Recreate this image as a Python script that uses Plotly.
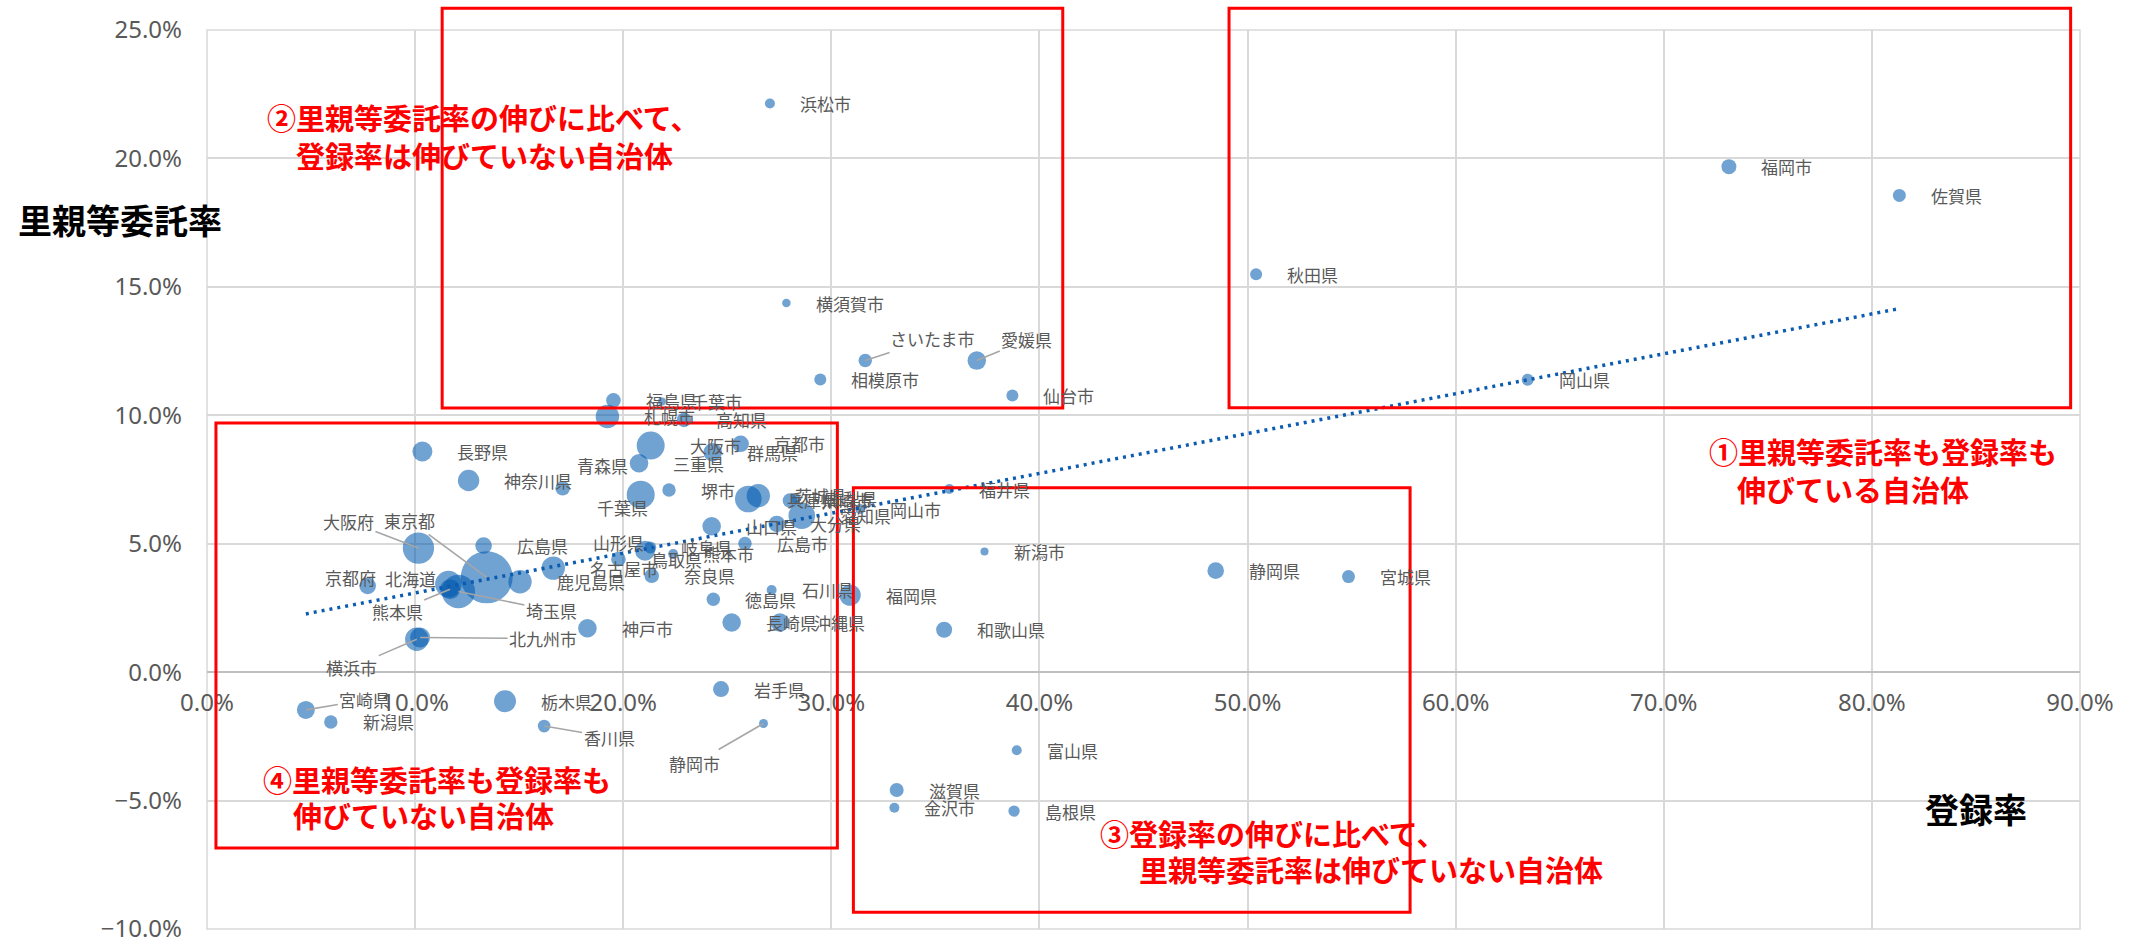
import math
import plotly.graph_objects as go

# ---------------- data ----------------
names = [
    "浜松市", "横須賀市", "さいたま市", "愛媛県", "相模原市", "仙台市", "福岡市", "佐賀県",
    "秋田県", "岡山県", "福島県", "札幌市", "千葉市", "高知県", "大阪市", "群馬県",
    "京都市", "三重県", "青森県", "長野県", "神奈川県", "千葉県", "堺市", "兵庫県",
    "茨城県", "川崎市", "山梨県", "愛知県", "岡山市", "福井県", "大分県", "山口県",
    "広島市", "新潟市", "大阪府", "東京都", "広島県", "京都府", "北海道", "熊本県",
    "埼玉県", "鹿児島県", "名古屋市", "鳥取県", "山形県", "岐阜県", "奈良県", "熊本市",
    "徳島県", "石川県", "長崎県", "沖縄県", "神戸市", "北九州市", "横浜市", "福岡県",
    "和歌山県", "静岡県", "宮城県", "富山県", "滋賀県", "金沢市", "島根県", "宮崎県",
    "新潟県", "栃木県", "香川県", "静岡市", "岩手県",
]

# 登録率 (x)
registration_rate = [
    0.2705, 0.2784, 0.3163, 0.3699, 0.2947, 0.3870, 0.7313, 0.8132,
    0.5041, 0.6346, 0.1953, 0.1924, 0.2186, 0.2292, 0.2132, 0.2430,
    0.2564, 0.2076, 0.1709, 0.1035, 0.1257, 0.2084, 0.2220, 0.2601,
    0.2649, 0.2801, 0.2830, 0.2858, 0.3138, 0.3567, 0.2738, 0.2425,
    0.2585, 0.3736, 0.1016, 0.1344, 0.1329, 0.0772, 0.1160, 0.1168,
    0.1208, 0.1504, 0.1664, 0.1977, 0.2105, 0.2130, 0.2137, 0.2240,
    0.2433, 0.2713, 0.2521, 0.2753, 0.1828, 0.1024, 0.1008, 0.3090,
    0.3542, 0.4847, 0.5485, 0.3891, 0.3314, 0.3303, 0.3878, 0.0475,
    0.0595, 0.1432, 0.1620, 0.2674, 0.2470,
]

# 里親等委託率 (y)
foster_rate = [
    0.2214, 0.1437, 0.1213, 0.1213, 0.1139, 0.1077, 0.1968, 0.1856,
    0.1549, 0.1138, 0.1058, 0.0995, 0.1054, 0.0982, 0.0882, 0.0856,
    0.0889, 0.0813, 0.0716, 0.0859, 0.0746, 0.0691, 0.0709, 0.0674,
    0.0687, 0.0668, 0.0675, 0.0609, 0.0635, 0.0713, 0.0577, 0.0568,
    0.0501, 0.0470, 0.0483, 0.0369, 0.0493, 0.0336, 0.0343, 0.0323,
    0.0314, 0.0352, 0.0405, 0.0440, 0.0473, 0.0485, 0.0375, 0.0460,
    0.0284, 0.0320, 0.0193, 0.0193, 0.0171, 0.0135, 0.0128, 0.0300,
    0.0165, 0.0395, 0.0372, -0.0304, -0.0459, -0.0528, -0.0541, -0.0147,
    -0.0194, -0.0113, -0.0210, -0.0200, -0.0066,
]

# bubble size values (relative, area-proportional)
bubble_value = [
    25, 18, 45, 86, 36, 36, 56, 42,
    36, 36, 53, 137, 16, 53, 196, 86,
    69, 86, 53, 100, 114, 196, 45, 177,
    137, 53, 25, 177, 25, 25, 69, 86,
    45, 16, 246, 676, 69, 69, 177, 100,
    279, 137, 137, 53, 100, 36, 53, 25,
    45, 25, 86, 86, 86, 100, 137, 114,
    64, 69, 42, 25, 49, 25, 32, 81,
    45, 121, 40, 20, 64,
]

# linear trendline (y = slope * x + intercept)
trend_slope = 0.1552
trend_intercept = 0.0153

x_tick_values = [0.0, 0.1, 0.2, 0.3, 0.4, 0.5, 0.6, 0.7, 0.8, 0.9]
y_tick_values = [-0.10, -0.05, 0.0, 0.05, 0.10, 0.15, 0.20, 0.25]

x_title = "登録率"
y_title = "里親等委託率"

# ---------------- styling ----------------
X_RANGE = [0.0, 0.9]
Y_RANGE = [-0.10, 0.25]
MAX_DIAMETER = 52
label_font = dict(family="Noto Sans CJK JP", size=17, color="#595959")
max_v = max(bubble_value)
diameters = [MAX_DIAMETER * math.sqrt(v / max_v) for v in bubble_value]

fig = go.Figure()

fig.add_trace(go.Scatter(
    x=registration_rate, y=foster_rate, mode="markers",
    text=names, hoverinfo="text",
    marker=dict(size=diameters, sizemode="diameter",
                color="rgba(0,90,175,0.8)", line=dict(width=0)),
    showlegend=False,
))

tx = [min(registration_rate), max(registration_rate)]
fig.add_trace(go.Scatter(
    x=tx, y=[trend_slope * v + trend_intercept for v in tx],
    mode="lines", line=dict(color="#0B5CB0", width=3.5, dash="3px,5px"),
    hoverinfo="skip", showlegend=False,
))

# label placement styles (pixel offsets of label centre from the point)
leader_labels = {
    "東京都": (-77, -57), "大阪府": (-70, -27), "熊本県": (-53, 22),
    "埼玉県": (93, 19), "北九州市": (123, 1), "横浜市": (-65, 28),
    "宮崎県": (59, -10), "香川県": (65, 11), "静岡市": (-69, 40),
    "さいたま市": (67, -22), "愛媛県": (50, -21),
}
shifted_labels = {
    "千葉県": (-18, 13), "青森県": (40, -23), "山形県": (-27, -8),
    "京都府": (-17, -8), "北海道": (-38, -6),
}

annotations = []
for n, xv, yv, d in zip(names, registration_rate, foster_rate, diameters):
    if n in leader_labels:
        ax, ay = leader_labels[n]
        annotations.append(dict(x=xv, y=yv, xref="x", yref="y", text=n,
                                showarrow=True, ax=ax, ay=ay, arrowhead=0,
                                arrowwidth=1.6, arrowcolor="#A6A6A6", standoff=0,
                                font=label_font))
    elif n in shifted_labels:
        dx, dy = shifted_labels[n]
        annotations.append(dict(x=xv, y=yv, xref="x", yref="y", text=n,
                                showarrow=False, xshift=dx, yshift=-dy,
                                xanchor="center", yanchor="middle", font=label_font))
    else:
        annotations.append(dict(x=xv, y=yv, xref="x", yref="y", text=n,
                                showarrow=False, xshift=d / 2 + 23,
                                xanchor="left", yanchor="middle", font=label_font))

# red callout text
box_font = dict(family="Noto Sans CJK JP", size=29, color="#FF0000")
box_texts = [
    (0.028, 0.2160, "②里親等委託率の伸びに比べて、"),
    (0.042, 0.2015, "登録率は伸びていない自治体"),
    (0.721, 0.0862, "①里親等委託率も登録率も"),
    (0.734, 0.0713, "伸びている自治体"),
    (0.428, -0.0628, "③登録率の伸びに比べて、"),
    (0.447, -0.0766, "里親等委託率は伸びていない自治体"),
    (0.026, -0.0417, "④里親等委託率も登録率も"),
    (0.0406, -0.0556, "伸びていない自治体"),
]
for bx, by, t in box_texts:
    annotations.append(dict(x=bx, y=by, xref="x", yref="y", text="<b>" + t + "</b>",
                            showarrow=False, xanchor="left", yanchor="middle",
                            font=box_font))

title_font = dict(family="Noto Sans CJK JP", size=34, color="#000000")
annotations.append(dict(x=-0.102, y=0.7887, xref="paper", yref="paper",
                        text="<b>" + y_title + "</b>", showarrow=False,
                        xanchor="left", yanchor="middle", font=title_font))
annotations.append(dict(x=0.9162, y=0.1335, xref="paper", yref="paper",
                        text="<b>" + x_title + "</b>", showarrow=False,
                        xanchor="left", yanchor="middle", font=title_font))

def px_(v):
    return (v - X_RANGE[0]) / (X_RANGE[1] - X_RANGE[0])

def py_(v):
    return (v - Y_RANGE[0]) / (Y_RANGE[1] - Y_RANGE[0])

red_boxes = [
    (0.1130, 0.4112, 0.1028, 0.2585),
    (0.4911, 0.8955, 0.1029, 0.2585),
    (0.0043, 0.3029, -0.0685, 0.0970),
    (0.3106, 0.5781, -0.0935, 0.0718),
]
shapes = [dict(type="rect", xref="paper", yref="paper", x0=0, x1=1, y0=0, y1=1,
               line=dict(color="#D9D9D9", width=1.5), layer="below")]
for x0, x1, y0, y1 in red_boxes:
    shapes.append(dict(type="rect", xref="paper", yref="paper",
                       x0=px_(x0), x1=px_(x1), y0=py_(y0), y1=py_(y1),
                       line=dict(color="#FF0000", width=3), layer="above"))

tick_font = dict(family="Noto Sans", size=24, color="#595959")
fig.update_layout(
    width=2139, height=939, autosize=False,
    margin=dict(l=207, r=59, t=30, b=10),
    plot_bgcolor="white", paper_bgcolor="white",
    xaxis=dict(range=X_RANGE, tickvals=x_tick_values, tickformat=".1%",
               showgrid=True, gridcolor="#D9D9D9", gridwidth=1.5,
               zeroline=False, showline=False, ticks="", automargin=False,
               anchor="free", position=py_(0.0), ticklabeloverflow="allow",
               tickfont=tick_font, ticklabelstandoff=14),
    yaxis=dict(range=Y_RANGE, tickvals=y_tick_values, tickformat=".1%",
               showgrid=True, gridcolor="#D9D9D9", gridwidth=1.5,
               zeroline=True, zerolinecolor="#BFBFBF", zerolinewidth=2,
               showline=False, ticks="", tickfont=tick_font, automargin=False,
               ticklabeloverflow="allow", ticklabelstandoff=24),
    annotations=annotations, shapes=shapes,
)

fig.write_html("out.html")
